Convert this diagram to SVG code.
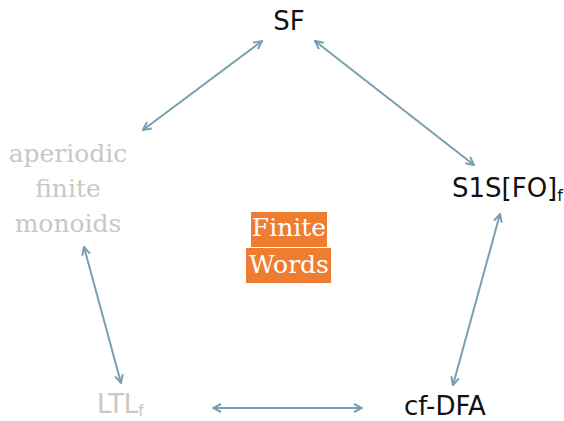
<svg xmlns="http://www.w3.org/2000/svg" width="564" height="421" viewBox="0 0 564 421">
<style>
.sans{font-family:"DejaVu Sans","Open Sans",sans-serif;font-size:26px;fill:#111}
.serif{font-family:"DejaVu Serif","Liberation Serif",serif;font-size:25px}
.gray{fill:#c8c8c8}
.edge{stroke:#7a9fb0;stroke-width:2;fill:none;marker-start:url(#ah);marker-end:url(#ah)}
</style>
<defs>
<marker id="ah" viewBox="0 0 10 10" refX="9" refY="5" markerWidth="10" markerHeight="10" markerUnits="userSpaceOnUse" orient="auto-start-reverse">
<path d="M1,1 L9,5 L1,9" fill="none" stroke="#7a9fb0" stroke-width="2"/>
</marker>
</defs>
<rect width="564" height="421" fill="#fff"/>
<g id="edges">
<line class="edge" x1="262" y1="41" x2="143" y2="130"/>
<line class="edge" x1="315" y1="41" x2="474" y2="165"/>
<line class="edge" x1="84" y1="247" x2="121" y2="383"/>
<line class="edge" x1="500" y1="214" x2="453" y2="385"/>
<line class="edge" x1="213" y1="408" x2="362" y2="408"/>
</g>
<g id="SF"><text class="sans" x="289" y="30" text-anchor="middle" font-size="27">SF</text></g>
<g id="S1S"><text class="sans" x="452" y="197" font-size="25">S1S[FO]<tspan font-size="16" dy="4">f</tspan></text></g>
<g id="aperiodic">
<text class="serif gray" x="68" y="162" text-anchor="middle">aperiodic</text>
<text class="serif gray" x="68" y="197" text-anchor="middle">finite</text>
<text class="serif gray" x="68" y="232" text-anchor="middle">monoids</text>
</g>
<g id="finitewords">
<rect x="251" y="212" width="76" height="35" fill="#ee7d31"/>
<rect x="246" y="248" width="85" height="35" fill="#ee7d31"/>
<text class="serif" x="289" y="236" text-anchor="middle" fill="#fff">Finite</text>
<text class="serif" x="289" y="273" text-anchor="middle" fill="#fff">Words</text>
</g>
<g id="LTL"><text class="sans gray" x="97" y="413">LTL<tspan font-size="16" dy="3">f</tspan></text></g>
<g id="cfDFA"><text class="sans" x="404" y="415" font-size="27">cf-DFA</text></g>
</svg>
